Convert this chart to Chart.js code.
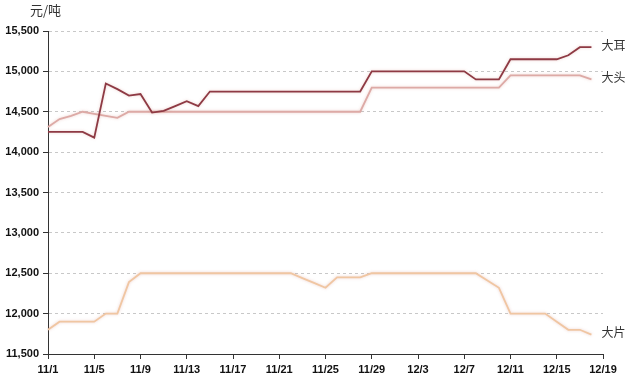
<!DOCTYPE html>
<html>
<head>
<meta charset="utf-8">
<script src="https://cdn.jsdelivr.net/npm/chart.js@4/dist/chart.umd.min.js"></script>
<style>
  html, body { margin: 0; padding: 0; background: #fff; }
  #wrap { width: 640px; height: 386px; position: relative; }
</style>
</head>
<body>
<div id="wrap"><canvas id="priceChart"></canvas></div>
<script>
// daily dates 11/1 .. 12/19
const dates = [
  '11/1','11/2','11/3','11/4','11/5','11/6','11/7','11/8','11/9','11/10',
  '11/11','11/12','11/13','11/14','11/15','11/16','11/17','11/18','11/19','11/20',
  '11/21','11/22','11/23','11/24','11/25','11/26','11/27','11/28','11/29','11/30',
  '12/1','12/2','12/3','12/4','12/5','12/6','12/7','12/8','12/9','12/10',
  '12/11','12/12','12/13','12/14','12/15','12/16','12/17','12/18','12/19'
];

const daEr = [
  14250, 14250, 14250, 14250, 14180, 14850, 14780, 14700, 14720, 14490,
  14510, 14570, 14630, 14570, 14750, 14750, 14750, 14750, 14750, 14750,
  14750, 14750, 14750, 14750, 14750, 14750, 14750, 14750, 15000, 15000,
  15000, 15000, 15000, 15000, 15000, 15000, 15000, 14900, 14900, 14900,
  15150, 15150, 15150, 15150, 15150, 15200, 15300, 15300, null
];

const daTou = [
  14310, 14410, 14450, 14500, 14475, 14450, 14425, 14500, 14500, 14500,
  14500, 14500, 14500, 14500, 14500, 14500, 14500, 14500, 14500, 14500,
  14500, 14500, 14500, 14500, 14500, 14500, 14500, 14500, 14800, 14800,
  14800, 14800, 14800, 14800, 14800, 14800, 14800, 14800, 14800, 14800,
  14950, 14950, 14950, 14950, 14950, 14950, 14950, 14900, null
];

const daPian = [
  11800, 11900, 11900, 11900, 11900, 12000, 12000, 12390, 12500, 12500,
  12500, 12500, 12500, 12500, 12500, 12500, 12500, 12500, 12500, 12500,
  12500, 12500, 12440, 12380, 12320, 12450, 12450, 12450, 12500, 12500,
  12500, 12500, 12500, 12500, 12500, 12500, 12500, 12500, 12410, 12320,
  12000, 12000, 12000, 12000, 11900, 11800, 11800, 11740, null
];

const seriesNames = ['大耳', '大头', '大片'];
const yTicks = [11500, 12000, 12500, 13000, 13500, 14000, 14500, 15000, 15500];

const ctx = document.getElementById('priceChart').getContext('2d');

// series name written next to the last point of each line
const endLabels = {
  id: 'endLabels',
  afterDatasetsDraw(chart) {
    const c = chart.ctx;
    c.save();
    c.font = '12px "Noto Sans CJK SC"';
    c.fillStyle = '#333';
    c.textBaseline = 'middle';
    chart.data.datasets.forEach((ds, i) => {
      const meta = chart.getDatasetMeta(i);
      let last = ds.data.length - 1;
      while (ds.data[last] == null) last--;
      const pt = meta.data[last];
      c.fillText(ds.label, pt.x + 10, pt.y - 2);
    });
    // unit on top of the y axis
    c.font = '13px "Noto Sans CJK SC"';
    c.textAlign = 'left';
    c.fillText('元/吨', 30, 10);
    c.restore();
  }
};

// soft glow under lines, like the original
const lineGlow = {
  id: 'lineGlow',
  beforeDatasetsDraw(chart) {
    chart.ctx.save();
    chart.ctx.shadowColor = 'rgba(200,120,110,0.35)';
    chart.ctx.shadowBlur = 3;
  },
  afterDatasetsDraw(chart) {
    chart.ctx.restore();
  }
};

const data = {
  labels: dates,
  datasets: [
    { label: seriesNames[0], data: daEr, borderColor: '#8e3a44', borderWidth: 1.8 },
    { label: seriesNames[1], data: daTou, borderColor: '#ddaaa6', borderWidth: 1.8 },
    { label: seriesNames[2], data: daPian, borderColor: '#f0c6a2', borderWidth: 1.8 }
  ]
};

const config = {
  type: 'line',
  data: data,
  options: {
    responsive: true,
    maintainAspectRatio: false,
    animation: false,
    layout: { padding: { top: 31, right: 37, left: 0, bottom: 0 } },
    elements: { point: { radius: 0 }, line: { tension: 0 } },
    plugins: {
      legend: { display: false },
      title: { display: false },
      tooltip: { enabled: false }
    },
    scales: {
      x: {
        offset: false,
        afterFit(scale) { scale.height = 32; },
        border: { display: true, color: '#333', width: 1 },
        grid: {
          drawOnChartArea: false,
          tickLength: 5,
          tickColor: '#333'
        },
        ticks: {
          autoSkip: false,
          maxRotation: 0,
          padding: 4,
          color: '#111',
          font: { family: 'Liberation Sans', size: 11, weight: 'bold' },
          callback(val, i) { return i % 4 === 0 ? dates[i] : null; }
        }
      },
      y: {
        min: yTicks[0],
        max: yTicks[yTicks.length - 1],
        afterFit(scale) { scale.width = 48; },
        afterBuildTicks(scale) { scale.ticks = yTicks.map(v => ({ value: v })); },
        border: { display: true, color: '#333', width: 1, dash: [3, 3] },
        grid: {
          color: '#c8c8c8',
          tickLength: 5,
          tickColor: '#333',
          tickBorderDash: [1, 0]
        },
        ticks: {
          padding: 4,
          color: '#111',
          font: { family: 'Liberation Sans', size: 11, weight: 'bold' },
          callback(v) { return v.toLocaleString('en-US'); }
        }
      }
    }
  },
  plugins: [lineGlow, endLabels]
};

const priceChart = new Chart(ctx, config);
</script>
</body>
</html>
